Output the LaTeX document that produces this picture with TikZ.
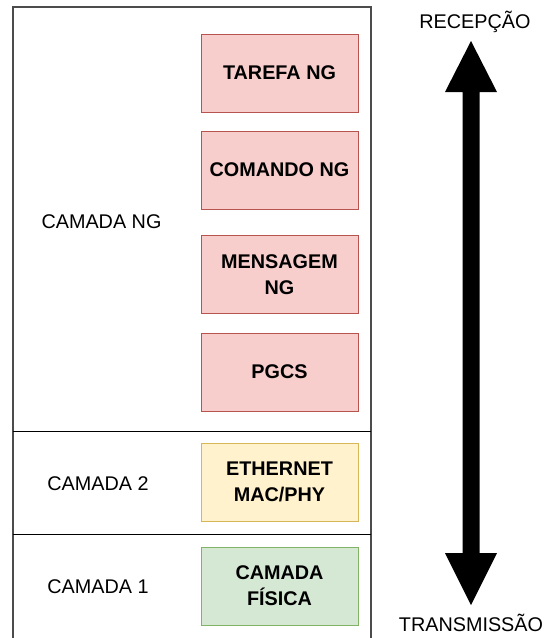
\documentclass[tikz,border=0pt]{standalone}
\usepackage{fontspec}
\setmainfont{Liberation Sans}
\definecolor{ngfill}{HTML}{F8CECC}
\definecolor{ngline}{HTML}{B85450}
\definecolor{ethfill}{HTML}{FFF2CC}
\definecolor{ethline}{HTML}{D6B656}
\definecolor{phyfill}{HTML}{D5E8D4}
\definecolor{phyline}{HTML}{82B366}
\tikzset{
  layerbox/.style={minimum width=157pt, minimum height=78pt, inner sep=0pt,
    align=center, line width=1pt, font=\fontsize{19.8}{26}\selectfont\bfseries},
  ngbox/.style={layerbox, fill=ngfill, draw=ngline},
  ethbox/.style={layerbox, fill=ethfill, draw=ethline},
  phybox/.style={layerbox, fill=phyfill, draw=phyline},
  layerlabel/.style={inner sep=0pt, font=\fontsize{19.8}{24}\selectfont},
  frameline/.style={draw=black!70, line width=1.3pt},
  sepline/.style={draw=black, line width=1pt}
}
\begin{document}
\begin{tikzpicture}[x=1pt, y=-1pt]
\useasboundingbox (0,0) rectangle (547,638);

% outer frame, open at the bottom
\coordinate (fbl) at (13,638);
\coordinate (ftl) at (13,7);
\coordinate (ftr) at (371,7);
\coordinate (fbr) at (371,638);
\draw[frameline] (fbl) -- (ftl) -- (ftr) -- (fbr);

% layer separators
\coordinate (s1l) at (13,431);
\coordinate (s1r) at (371,431);
\coordinate (s2l) at (13,534.5);
\coordinate (s2r) at (371,534.5);
\draw[sepline] (s1l) -- (s1r);
\draw[sepline] (s2l) -- (s2r);

% protocol blocks
\node[ngbox] (tarefa) at (279.5,73) {TAREFA NG};
\node[ngbox] (comando) at (279.5,170) {COMANDO NG};
\node[ngbox] (mensagem) at (279.5,274.5) {MENSAGEM\\NG};
\node[ngbox] (pgcs) at (279.5,372) {PGCS};
\node[ethbox] (eth) at (279.5,482) {ETHERNET\\MAC/PHY};
\node[phybox] (fisica) at (279.5,586) {CAMADA\\FÍSICA};

% layer names
\node[layerlabel] (lng) at (101.5,222) {CAMADA NG};
\node[layerlabel] (l2) at (98,484) {CAMADA 2};
\node[layerlabel] (l1) at (98,587) {CAMADA 1};

% direction labels
\node[layerlabel] (rec) at (475,22) {RECEPÇÃO};
\node[layerlabel] (tx) at (471,623) {TRANSMISSÃO};

% double-headed direction arrow
\fill[black] (471,41) -- (497,92) -- (479.5,92) -- (479.5,553) -- (497,553)
  -- (471,605) -- (445,553) -- (462.5,553) -- (462.5,92) -- (445,92) -- cycle;
\end{tikzpicture}
\end{document}
